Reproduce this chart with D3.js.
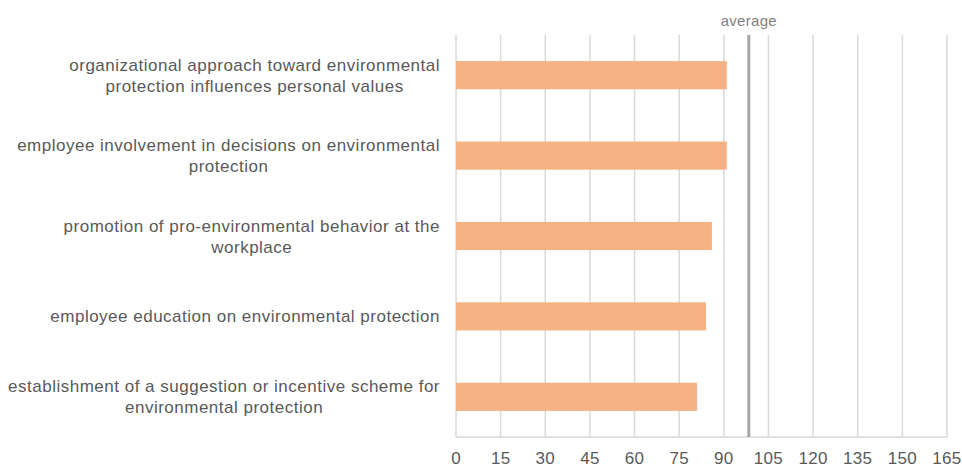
<!DOCTYPE html>
<html>
<head>
<meta charset="utf-8">
<script src="https://cdn.jsdelivr.net/npm/d3@7"></script>
<style>
  body { margin: 0; background: #fff; }
  text { font-family: "Liberation Sans", Arial, sans-serif; }
</style>
</head>
<body>
<svg id="chart" width="962" height="468"></svg>
<script>
// data
const categories = [
  ["organizational approach toward environmental", "protection influences personal values"],
  ["employee involvement in decisions on environmental ", "protection"],
  ["promotion of pro-environmental behavior at the", "workplace"],
  ["employee education on environmental protection"],
  ["establishment of a suggestion or incentive scheme for", "environmental protection"]
];
const values = [91, 91, 86, 84, 81];
const averageValue = 98.4;
const tickValues = [0, 15, 30, 45, 60, 75, 90, 105, 120, 135, 150, 165];

const svg = d3.select("#chart");
const margin = { top: 35, right: 15, bottom: 31, left: 456 };
const width = 962 - margin.left - margin.right;
const height = 468 - margin.top - margin.bottom;

const g = svg.append("g").attr("transform", `translate(${margin.left},${margin.top})`);

const x = d3.scaleLinear().domain([0, 165]).range([0, width]);
const y = d3.scaleBand().domain(d3.range(values.length)).range([0, height]).paddingInner(0.65).paddingOuter(0.325);

// gridlines
g.selectAll(".grid").data(tickValues).enter()
  .append("line")
  .attr("x1", d => x(d)).attr("x2", d => x(d))
  .attr("y1", 0).attr("y2", height)
  .attr("stroke", "#d9d9d9").attr("stroke-width", 1.5);

// bottom axis line
g.append("line")
  .attr("x1", 0).attr("x2", width)
  .attr("y1", height).attr("y2", height)
  .attr("stroke", "#d9d9d9").attr("stroke-width", 1.5);

// bars
g.selectAll(".bar").data(values).enter()
  .append("rect")
  .attr("x", 0)
  .attr("y", (d, i) => y(i))
  .attr("width", d => x(d))
  .attr("height", y.bandwidth())
  .attr("fill", "#f4b183");

// average line
g.append("line")
  .attr("x1", x(averageValue)).attr("x2", x(averageValue))
  .attr("y1", 0).attr("y2", height)
  .attr("stroke", "#a6a6a6").attr("stroke-width", 3);

svg.append("text")
  .attr("x", margin.left + x(averageValue))
  .attr("y", 26)
  .attr("text-anchor", "middle")
  .attr("font-size", 15)
  .attr("letter-spacing", 0.3)
  .attr("fill", "#808080")
  .text("average");

// x tick labels
g.selectAll(".tick-label").data(tickValues).enter()
  .append("text")
  .attr("x", d => x(d))
  .attr("y", height + 27)
  .attr("text-anchor", "middle")
  .attr("font-size", 17)
  .attr("letter-spacing", 0.3)
  .attr("fill", "#595959")
  .text(d => d);

// category labels, block right-aligned, lines centred
const labelRight = 440;
const lineHeight = 21;
categories.forEach((lines, i) => {
  const cy = margin.top + y(i) + y.bandwidth() / 2;
  const grp = svg.append("g");
  const texts = lines.map((line, j) => grp.append("text")
    .attr("font-size", 17)
    .attr("letter-spacing", 0.5)
    .attr("fill", "#595959")
    .attr("text-anchor", "middle")
    .attr("y", cy + (j - (lines.length - 1) / 2) * lineHeight + 6)
    .text(line));
  const maxW = d3.max(texts, t => t.node().getComputedTextLength());
  texts.forEach(t => t.attr("x", labelRight - maxW / 2));
});
</script>
</body>
</html>
